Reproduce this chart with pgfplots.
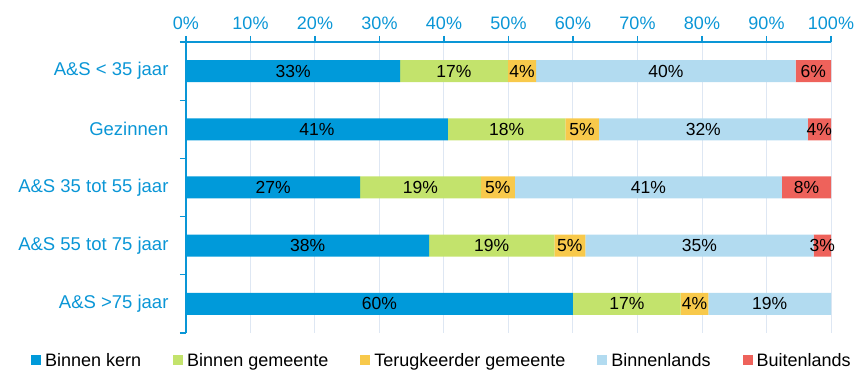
\documentclass[border=0pt]{standalone}
\usepackage{fontspec}
\setmainfont{Liberation Sans}
\usepackage{pgfplots}
\usepackage{pgfplotstable}
\pgfplotsset{compat=1.18}
\definecolor{cBK}{HTML}{009ADA}
\definecolor{cBG}{HTML}{C3E36C}
\definecolor{cTG}{HTML}{F8C94B}
\definecolor{cBL}{HTML}{B2DBF0}
\definecolor{cBU}{HTML}{EE625B}
\definecolor{axblue}{HTML}{0A96D6}
\definecolor{gridc}{HTML}{DEE7F3}
\newcommand{\fs}{\fontsize{18}{21}\selectfont}
\newcommand{\fy}{\fontsize{18.5}{21}\selectfont}
\newcommand{\fb}{\fontsize{17.5}{20}\selectfont}
\pgfplotstableread{
y   bk   bg   tg  bl   bu
0   60.0 16.7 4.3 19.0 0
1   37.7 19.4 4.8 35.4 2.7
2   27.0 18.7 5.3 41.4 7.6
3   40.6 18.2 5.2 32.4 3.6
4   33.2 16.7 4.4 40.2 5.5
}\data
\pgfplotsset{
  frame/.style={at={(0,0)}, anchor=south west, scale only axis,
    width=645pt, height=291pt, xmin=0, xmax=100, ymin=-0.5, ymax=4.5},
  lbl/.style={draw=none, mark=none, point meta=explicit symbolic,
    nodes near coords={\pgfmathtruncatemacro\nz{\pgfplotspointmeta>0.05}\ifnum\nz=1 \pgfmathprintnumber[fixed,precision=0]{\pgfplotspointmeta}\%\fi},
    every node near coord/.append style={anchor=center, text=black, font=\fb, inner sep=0pt}},
}
\begin{document}
\begin{tikzpicture}
\path (-186pt,-41pt) rectangle (677pt,333pt);
\begin{axis}[
  frame,
  xbar stacked, bar width=22pt,
  axis x line=top, axis y line=left,
  axis line style={axblue, line width=1.3pt, -},
  tick align=outside, major tick length=6pt,
  tick style={axblue, line width=1.3pt},
  /pgf/number format/assume math mode=true,
  xtick={0,10,...,100},
  xticklabels={0\%,10\%,20\%,30\%,40\%,50\%,60\%,70\%,80\%,90\%,100\%},
  ytick={-0.5,0.5,1.5,2.5,3.5,4.5},
  y tick label as interval,
  yticklabels={A\&S >75 jaar, A\&S 55 tot 75 jaar, A\&S 35 tot 55 jaar, Gezinnen, A\&S < 35 jaar},
  tick label style={font=\fs, text=axblue},
  xticklabel style={yshift=3pt},
  yticklabel style={xshift=-8pt, font=\fy},
  xmajorgrids, grid style={gridc, line width=1pt},
  legend style={at={(-0.245,-0.055)}, anchor=north west, draw=none, fill=none, font=\fs,
    legend columns=-1, /tikz/every even column/.append style={column sep=30pt},
    /tikz/every odd column/.append style={column sep=2pt}},
  legend image code/.code={\fill[#1] (0pt,-5pt) rectangle (10pt,5pt);},
]
\addplot[fill=cBK, draw=none] table[x=bk, y=y] {\data};
\addplot[fill=cBG, draw=none] table[x=bg, y=y] {\data};
\addplot[fill=cTG, draw=none] table[x=tg, y=y] {\data};
\addplot[fill=cBL, draw=none] table[x=bl, y=y] {\data};
\addplot[fill=cBU, draw=none] table[x=bu, y=y] {\data};
\legend{Binnen kern, Binnen gemeente, Terugkeerder gemeente, Binnenlands, Buitenlands}
\end{axis}
\begin{axis}[frame, hide axis, /pgf/number format/assume math mode=true]
\addplot[lbl] table[x expr=\thisrow{bk}/2, y=y, meta=bk] {\data};
\addplot[lbl] table[x expr=\thisrow{bk}+\thisrow{bg}/2, y=y, meta=bg] {\data};
\addplot[lbl] table[x expr=\thisrow{bk}+\thisrow{bg}+\thisrow{tg}/2, y=y, meta=tg] {\data};
\addplot[lbl] table[x expr=\thisrow{bk}+\thisrow{bg}+\thisrow{tg}+\thisrow{bl}/2, y=y, meta=bl] {\data};
\addplot[lbl] table[x expr=\thisrow{bk}+\thisrow{bg}+\thisrow{tg}+\thisrow{bl}+\thisrow{bu}/2, y=y, meta=bu] {\data};
\end{axis}
\end{tikzpicture}
\end{document}
